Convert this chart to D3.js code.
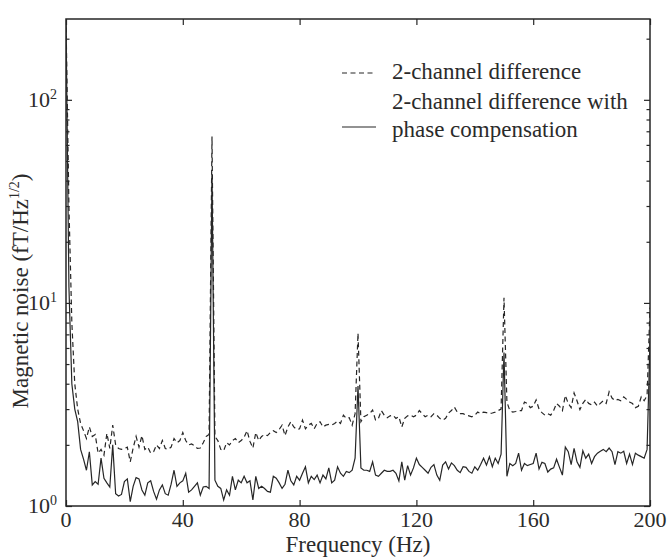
<!DOCTYPE html>
<html>
<head>
<meta charset="utf-8">
<script src="https://cdn.jsdelivr.net/npm/d3@7"></script>
<style>
  body { margin: 0; background: #fff; }
  svg { display: block; }
  text { font-family: "Liberation Serif", "Times New Roman", serif; fill: #2b2b2b; }
</style>
</head>
<body>
<svg id="chart" width="668" height="558"></svg>
<script>
// frequency bins, 1 Hz apart
var freqs = d3.range(0, 201);

// 2-channel difference (dashed)
var diffNoise = [
  250, 30, 8, 4.0, 3.0, 2.55, 2.35, 2.15, 2.45, 2.2,
  2.25, 1.82, 1.9, 1.78, 2.28, 1.92, 2.5, 2.0, 1.92, 1.9,
  1.92, 1.95, 1.65, 1.93, 2.2, 1.95, 2.22, 1.9, 1.95, 1.82,
  1.85, 2.0, 1.92, 2.1, 1.92, 1.9, 1.95, 2.15, 2.05, 2.1,
  2.3, 2.1, 2.0, 2.02, 1.98, 1.92, 1.93, 2.05, 2.2, 2.25,
  66, 2.2, 2.1, 1.9, 1.87, 2.05, 2.0, 2.1, 2.15, 2.05,
  2.1, 2.18, 2.35, 2.08, 1.93, 2.3, 2.1, 2.2, 2.25, 2.22,
  2.3, 2.35, 2.3, 2.38, 2.5, 2.22, 2.45, 2.6, 2.45, 2.38,
  2.4, 2.65, 2.4, 2.5, 2.55, 2.4, 2.55, 2.6, 2.45, 2.5,
  2.52, 2.5, 2.55, 2.62, 2.55, 2.8, 2.7, 2.72, 2.5, 2.85,
  7.1, 2.6, 2.75, 2.8, 2.85, 2.97, 2.65, 2.7, 2.95, 2.8,
  2.72, 2.78, 2.8, 2.7, 2.75, 2.45, 2.7, 2.78, 2.8, 2.75,
  2.8, 2.95, 2.85, 2.75, 2.8, 2.75, 2.85, 2.8, 2.7, 2.65,
  2.7, 2.87, 2.95, 3.07, 2.9, 2.85, 2.85, 2.8, 2.78, 2.75,
  2.8, 2.9, 2.85, 2.9, 2.88, 2.85, 2.87, 2.9, 2.95, 3.0,
  10.6, 3.25, 2.95, 2.9, 2.92, 2.95, 2.95, 3.25, 3.2, 3.05,
  3.1, 3.33, 3.0, 2.88, 2.8, 2.85, 2.8, 2.95, 3.2, 3.1,
  2.95, 3.5, 3.2, 3.05, 3.6, 3.3, 2.98, 3.2, 3.35, 3.2,
  3.15, 3.25, 3.1, 3.2, 3.3, 3.2, 3.65, 3.4, 3.3, 3.35,
  3.3, 3.45, 3.35, 3.25, 3.2, 3.05, 3.1, 3.45, 3.3, 3.5,
  9.5
];

// 2-channel difference with phase compensation (solid)
var compNoise = [
  250, 12, 4.0, 3.0, 2.6, 1.9, 1.7, 1.5, 1.85, 1.27,
  1.32, 1.28, 1.72, 1.37, 1.3, 1.24, 2.0, 1.15, 1.12, 1.14,
  1.32, 1.36, 1.05, 1.25, 1.38, 1.36, 1.2, 1.13, 1.3, 1.33,
  1.18, 1.08, 1.2, 1.27, 1.15, 1.13, 1.28, 1.5, 1.25, 1.3,
  1.33, 1.45, 1.17, 1.2, 1.25, 1.3, 1.13, 1.24, 1.25, 1.22,
  43, 1.34, 1.25, 1.22, 1.07, 1.2, 1.13, 1.4, 1.2, 1.34,
  1.3, 1.4, 1.3, 1.33, 1.07, 1.4, 1.22, 1.25, 1.22, 1.18,
  1.17, 1.4, 1.37, 1.3, 1.22, 1.28, 1.5, 1.33, 1.27, 1.4,
  1.34, 1.45, 1.56, 1.3, 1.4, 1.35, 1.42, 1.3, 1.42, 1.36,
  1.54, 1.3, 1.34, 1.56, 1.45, 1.4, 1.48, 1.46, 1.5, 1.72,
  3.9, 1.54, 1.5, 1.5, 1.48, 1.65, 1.42, 1.4, 1.45, 1.5,
  1.48, 1.48, 1.5, 1.45, 1.33, 1.65, 1.34, 1.58, 1.42, 1.54,
  1.72, 1.6, 1.55, 1.5, 1.45, 1.55, 1.6, 1.42, 1.34, 1.59,
  1.65, 1.52, 1.63, 1.58, 1.5, 1.46, 1.56, 1.55, 1.48, 1.45,
  1.56, 1.5, 1.6, 1.72, 1.59, 1.75, 1.56, 1.72, 1.62, 1.8,
  5.7, 1.4, 1.62, 1.58, 1.62, 1.82, 1.5, 1.62, 1.58, 1.6,
  1.62, 1.82, 1.52, 1.64, 1.62, 1.47, 1.52, 1.54, 1.7, 1.55,
  1.42, 1.95, 1.85, 1.6, 1.92, 1.65, 1.55, 1.87, 1.72, 1.8,
  1.62, 1.75, 1.82, 1.86, 1.9, 1.85, 1.93, 1.85, 1.6, 1.85,
  1.82, 1.86, 1.62, 1.8, 1.6, 1.82, 1.78, 1.75, 1.72, 1.9,
  6.5
];

var xTicks = [0, 40, 80, 120, 160, 200];
var yDecades = [1, 10, 100];
var yMinor = [2, 3, 4, 5, 6, 7, 8, 9, 20, 30, 40, 50, 60, 70, 80, 90, 200];

var legendItems = [
  { lines: ["2-channel difference"], dash: "5,3.5" },
  { lines: ["2-channel difference with", "phase compensation"], dash: null }
];

var ink = "#262626";
var plotLeft = 66, plotRight = 650, plotTop = 19, plotBottom = 506;

var svg = d3.select("#chart");

var x = d3.scaleLinear().domain([0, 200]).range([plotLeft, plotRight]);
var y = d3.scaleLog().domain([1, 250]).range([plotBottom, plotTop]);

svg.append("clipPath").attr("id", "plotclip")
  .append("rect")
  .attr("x", plotLeft).attr("y", plotTop)
  .attr("width", plotRight - plotLeft).attr("height", plotBottom - plotTop);

var line = d3.line()
  .x(function(d, i) { return x(freqs[i]); })
  .y(function(d) { return y(d); });

var plot = svg.append("g").attr("clip-path", "url(#plotclip)");

plot.append("path")
  .datum(diffNoise)
  .attr("d", line)
  .attr("fill", "none")
  .attr("stroke", ink)
  .attr("stroke-width", 1.2)
  .attr("stroke-dasharray", "5,3.5");

plot.append("path")
  .datum(compNoise)
  .attr("d", line)
  .attr("fill", "none")
  .attr("stroke", ink)
  .attr("stroke-width", 1.2);

// ticks on all four sides, pointing inward
function styleAxis(g) {
  g.select(".domain").remove();
  g.selectAll(".tick line").attr("stroke", ink).attr("stroke-width", 1.2);
}

svg.append("g")
  .attr("transform", "translate(0," + plotBottom + ")")
  .call(d3.axisBottom(x).tickValues(xTicks).tickSize(-6).tickFormat(""))
  .call(styleAxis);

svg.append("g")
  .attr("transform", "translate(0," + plotTop + ")")
  .call(d3.axisTop(x).tickValues(xTicks).tickSize(-6).tickFormat(""))
  .call(styleAxis);

var yAll = yDecades.concat(yMinor);
function yTickLen(v) { return yDecades.indexOf(v) >= 0 ? 6 : 3.5; }

var yl = svg.append("g")
  .attr("transform", "translate(" + plotLeft + ",0)")
  .call(d3.axisLeft(y).tickValues(yAll).tickSize(-6).tickFormat(""))
  .call(styleAxis);
yl.selectAll(".tick line").attr("x2", function(d) { return yTickLen(d); });

var yr = svg.append("g")
  .attr("transform", "translate(" + plotRight + ",0)")
  .call(d3.axisRight(y).tickValues(yAll).tickSize(-6).tickFormat(""))
  .call(styleAxis);
yr.selectAll(".tick line").attr("x2", function(d) { return -yTickLen(d); });

// frame
svg.append("rect")
  .attr("x", plotLeft).attr("y", plotTop)
  .attr("width", plotRight - plotLeft).attr("height", plotBottom - plotTop)
  .attr("fill", "none")
  .attr("stroke", ink)
  .attr("stroke-width", 1.5);

// x tick labels
svg.append("g").selectAll("text")
  .data(xTicks)
  .enter().append("text")
  .attr("x", function(d) { return x(d); })
  .attr("y", 527)
  .attr("text-anchor", "middle")
  .attr("font-size", 22)
  .text(function(d) { return d; });

// y tick labels: 10^n
var ylab = svg.append("g").selectAll("text")
  .data(yDecades)
  .enter().append("text")
  .attr("x", 57)
  .attr("y", function(d) { return y(d) + 7; })
  .attr("text-anchor", "end")
  .attr("font-size", 22);
ylab.append("tspan").text("10");
ylab.append("tspan")
  .attr("font-size", 14)
  .attr("dy", -8)
  .text(function(d) { return Math.round(Math.log10(d)); });

// axis titles
svg.append("text")
  .attr("x", 358)
  .attr("y", 552)
  .attr("text-anchor", "middle")
  .attr("font-size", 23)
  .text("Frequency (Hz)");

var ytitle = svg.append("text")
  .attr("transform", "translate(28,291) rotate(-90)")
  .attr("text-anchor", "middle")
  .attr("font-size", 23);
ytitle.append("tspan").text("Magnetic noise (fT/Hz");
ytitle.append("tspan").attr("font-size", 14).attr("dy", -9).text("1/2");
ytitle.append("tspan").attr("dy", 9).text(")");

// legend
var legendY = [73, 127];
var legendText = [[79], [109, 137]];
legendItems.forEach(function(item, i) {
  svg.append("line")
    .attr("x1", 342).attr("x2", 376)
    .attr("y1", legendY[i]).attr("y2", legendY[i])
    .attr("stroke", ink)
    .attr("stroke-width", 1.1)
    .attr("stroke-dasharray", item.dash);
  item.lines.forEach(function(t, j) {
    svg.append("text")
      .attr("x", 392)
      .attr("y", legendText[i][j])
      .attr("font-size", 23)
      .text(t);
  });
});
</script>
</body>
</html>
